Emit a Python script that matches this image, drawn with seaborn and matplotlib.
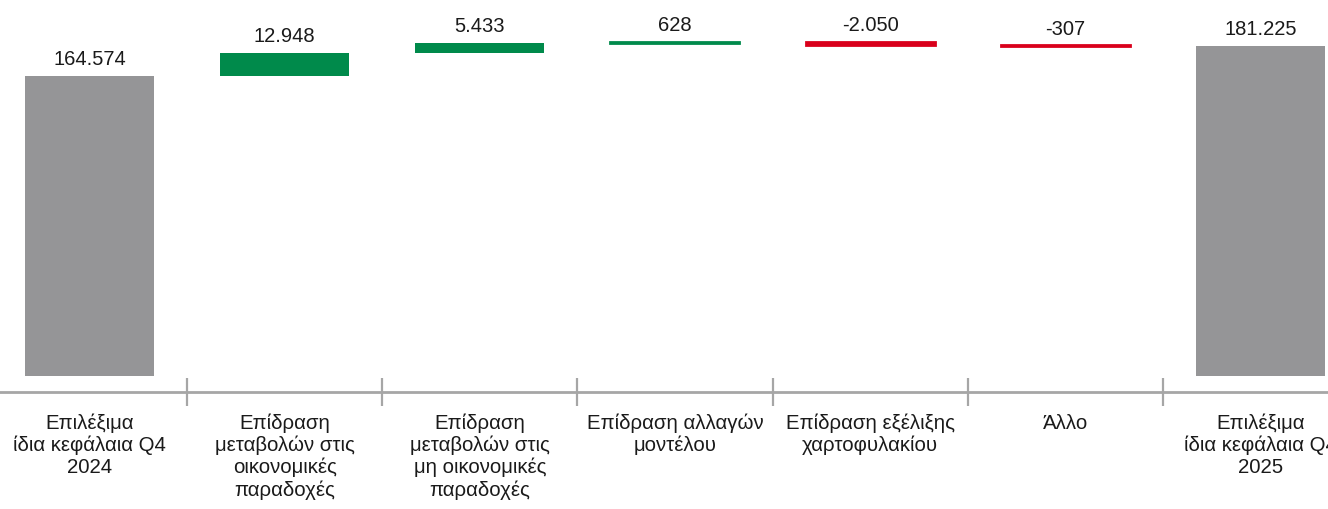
import numpy as np
import matplotlib
matplotlib.use("Agg")
import matplotlib.pyplot as plt
import seaborn as sns

# --- data ---------------------------------------------------------------
categories = [
    "Επιλέξιμα\nίδια κεφάλαια Q4\n2024",
    "Επίδραση\nμεταβολών στις\nοικονομικές\nπαραδοχές",
    "Επίδραση\nμεταβολών στις\nμη οικονομικές\nπαραδοχές",
    "Επίδραση αλλαγών\nμοντέλου",
    "Επίδραση εξέλιξης\nχαρτοφυλακίου",
    "Άλλο",
    "Επιλέξιμα\nίδια κεφάλαια Q4\n2025",
]
values = [164574, 12948, 5433, 628, -2050, -307, 181225]
is_total = [True, False, False, False, False, False, True]

# --- waterfall geometry from the values -----------------------------------
bottoms, heights = [], []
running = 0
for v, tot in zip(values, is_total):
    if tot:
        bottoms.append(0)
        heights.append(v)
        running = v
    else:
        bottoms.append(running)
        heights.append(v)
        running += v

GREY = "#959597"
GREEN = "#008A4B"
RED = "#D9001B"
AXIS_GREY = "#A6A6A6"
colors = [GREY if t else (GREEN if v >= 0 else RED) for v, t in zip(values, is_total)]

sns.set_theme(style="white")
plt.rcParams["font.family"] = ["Liberation Sans", "DejaVu Sans"]

fig = plt.figure(figsize=(13.28, 5.09), dpi=100)
ax = fig.add_axes([0.0, 0.2295, 1.0, 0.7705])

sns.barplot(x=categories, y=heights, bottom=bottoms, width=0.661,
            errorbar=None, ax=ax, order=categories, linewidth=0,
            color=GREY, saturation=1)

for patch, c, v, t in zip(ax.patches, colors, values, is_total):
    patch.set_facecolor(c)
    if not t and abs(v) < 3000:
        # give very small movements a visible minimum thickness
        patch.set_edgecolor(c)
        patch.set_linewidth(2.0)

def fmt(v):
    s = f"{abs(v):,}".replace(",", ".")
    return ("-" if v < 0 else "") + s

for i, (b, h, v) in enumerate(zip(bottoms, heights, values)):
    top = max(b, b + h)
    ax.annotate(fmt(v), xy=(i, top), xytext=(0, 5), textcoords="offset points",
                ha="center", va="bottom", fontsize=14.5, color="#1a1a1a")

ax.set_xlim(-0.4586, 6.346)
ax.set_ylim(-8960, 206508)

for side in ["top", "right", "left"]:
    ax.spines[side].set_visible(False)
ax.spines["bottom"].set_color(AXIS_GREY)
ax.spines["bottom"].set_linewidth(2.0)

ax.set_yticks([])
ax.set_xticks(range(len(categories)))
ax.set_xticklabels(categories, fontsize=14.7, color="#1a1a1a", linespacing=1.17)
ax.tick_params(axis="x", which="major", length=0, pad=15.5)
ax.set_xticks(np.arange(0.5, len(categories) - 1, 1.0), minor=True)
ax.tick_params(axis="x", which="minor", direction="inout", length=19.5,
               width=1.6, color=AXIS_GREY, bottom=True)
ax.set_xlabel("")
ax.set_ylabel("")

fig.savefig("out.png", dpi=100, facecolor="white")
